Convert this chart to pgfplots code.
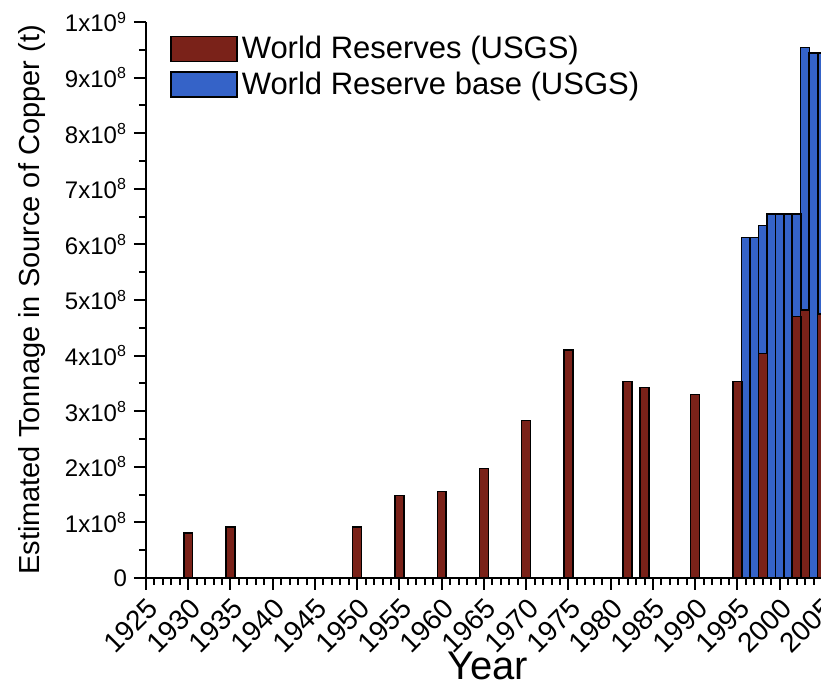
\documentclass[border=0pt]{standalone}
\usepackage{pgfplots}
\pgfplotsset{compat=1.18}
\usepackage{pgfplotstable}
\usepackage{fontspec}
\setmainfont{Liberation Sans}
\definecolor{resred}{HTML}{7A2219}
\definecolor{baseblue}{HTML}{3563C8}

\pgfplotstableread{
year value
1930 0.81e8
1935 0.92e8
1950 0.92e8
1955 1.48e8
1960 1.56e8
1965 1.97e8
1970 2.83e8
1975 4.10e8
1982 3.53e8
1984 3.43e8
1990 3.30e8
1995 3.53e8
1998 4.04e8
2002 4.70e8
2003 4.82e8
2005 4.75e8
}\reservetable

\pgfplotstableread{
year value
1996 6.12e8
1997 6.12e8
1998 6.34e8
1999 6.55e8
2000 6.55e8
2001 6.55e8
2002 6.55e8
2003 9.54e8
2004 9.44e8
2005 9.44e8
}\basetable

\begin{document}
\begin{tikzpicture}
\begin{axis}[
  width=359.1pt, height=278pt, scale only axis,
  xmin=1925, xmax=2010, ymin=0, ymax=1e9,
  axis lines*=left,
  axis line style={line width=1.2pt, black},
  tick align=outside,
  major tick length=6pt, minor tick length=3.5pt,
  every tick/.style={black, line width=1pt},
  xtick={1925,1930,...,2010},
  minor x tick num=4,
  ytick={0,1e8,2e8,3e8,4e8,5e8,6e8,7e8,8e8,9e8,1e9},
  yticklabels={0,1x10\textsuperscript{8},2x10\textsuperscript{8},3x10\textsuperscript{8},4x10\textsuperscript{8},5x10\textsuperscript{8},6x10\textsuperscript{8},7x10\textsuperscript{8},8x10\textsuperscript{8},9x10\textsuperscript{8},1x10\textsuperscript{9}},
  minor y tick num=1,
  scaled y ticks=false,
  scaled x ticks=false,
  /pgf/number format/1000 sep={},
  /pgf/number format/assume math mode=true,
  xticklabel style={font=\fontsize{14}{16}\selectfont, yshift=-1.5pt, rotate=45, anchor=north east, inner sep=1pt},
  yticklabel style={font=\fontsize{12}{14}\selectfont},
  xlabel={Year},
  ylabel={Estimated Tonnage in Source of Copper (t)},
  xlabel style={font=\fontsize{20}{24}\selectfont, at={(axis description cs:0.476,0)}, anchor=north, inner sep=0pt, yshift=-37pt},
  ylabel style={font=\fontsize{14.5}{17}\selectfont, at={([xshift=-57pt]axis description cs:0,0.5)}, anchor=center, rotate=0},
  legend style={at={(axis description cs:0,1)}, anchor=north west, xshift=12pt, yshift=-5pt, draw=none, fill=none, font=\fontsize{15.5}{18}\selectfont, row sep=1pt, inner sep=0pt},
  legend cell align=left,
  reverse legend,
  legend image code/.code={\draw[#1] (0pt,-6.25pt) rectangle (33pt,6.25pt);},
  clip=false,
]
\addplot[ybar, bar width=1.05, bar shift=0pt, fill=baseblue, draw=black, line width=0.7pt]
  table[x=year,y=value]{\basetable};
\addlegendentry{World Reserve base (USGS)}
\addplot[ybar, bar width=1.05, bar shift=0pt, fill=resred, draw=black, line width=0.7pt]
  table[x=year,y=value]{\reservetable};
\addlegendentry{World Reserves (USGS)}
\end{axis}
\pgfresetboundingbox
\path[use as bounding box] (-73pt,-53.5pt) rectangle (337.5pt,289pt);
\end{tikzpicture}
\end{document}
